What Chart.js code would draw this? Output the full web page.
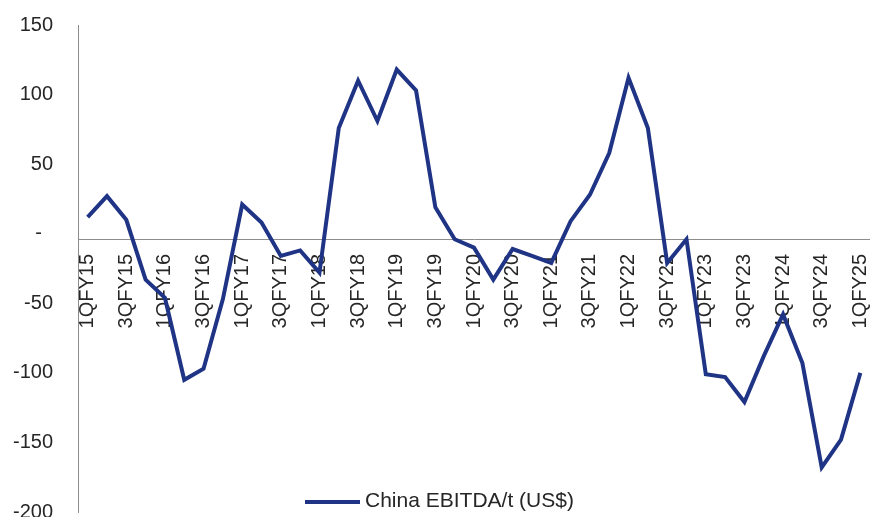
<!DOCTYPE html>
<html>
<head>
<meta charset="utf-8">
<script src="https://cdn.jsdelivr.net/npm/chart.js@4.4.1/dist/chart.umd.min.js"></script>
<style>
  html, body { margin: 0; padding: 0; background: #ffffff; }
  #wrap { width: 870px; height: 517px; position: relative; }
</style>
</head>
<body>
<div id="wrap"><canvas id="c"></canvas></div>
<script>
const quarters = [
  '1QFY15','2QFY15','3QFY15','4QFY15',
  '1QFY16','2QFY16','3QFY16','4QFY16',
  '1QFY17','2QFY17','3QFY17','4QFY17',
  '1QFY18','2QFY18','3QFY18','4QFY18',
  '1QFY19','2QFY19','3QFY19','4QFY19',
  '1QFY20','2QFY20','3QFY20','4QFY20',
  '1QFY21','2QFY21','3QFY21','4QFY21',
  '1QFY22','2QFY22','3QFY22','4QFY22',
  '1QFY23','2QFY23','3QFY23','4QFY23',
  '1QFY24','2QFY24','3QFY24','4QFY24',
  '1QFY25'
];
const chinaEbitda = [
  12, 27, 10, -33,
  -46, -105, -97, -47,
  21, 8, -16, -12,
  -28, 76, 110, 81,
  118, 103, 19, -4,
  -10, -33, -11, -16,
  -21, 9, 28, 58,
  112, 76, -21, -4,
  -101, -103, -121, -88,
  -58, -93, -168, -148,
  -100
];
const seriesLabel = 'China EBITDA/t (US$)';
const yTicks = { min: -200, max: 150, step: 50 };
const axisCross = -4.5;

const lineColor = '#203486';
const textColor = '#262626';
const axisColor = '#8c8c8c';
const fontFamily = '"Liberation Sans", Arial, sans-serif';

const overlayLegend = {
  id: 'overlayLegend',
  afterDraw(chart) {
    const ctx = chart.ctx;
    const ds = chart.data.datasets[0];
    ctx.save();
    ctx.strokeStyle = ds.borderColor;
    ctx.lineWidth = 4;
    ctx.lineCap = 'butt';
    ctx.beginPath();
    ctx.moveTo(305, 502);
    ctx.lineTo(360, 502);
    ctx.stroke();
    ctx.fillStyle = textColor;
    ctx.font = '21px ' + fontFamily;
    ctx.textBaseline = 'middle';
    ctx.textAlign = 'left';
    ctx.fillText(ds.label, 365, 501);
    ctx.restore();
  }
};

new Chart(document.getElementById('c'), {
  type: 'line',
  data: {
    labels: quarters,
    datasets: [{
      label: seriesLabel,
      data: chinaEbitda,
      borderColor: lineColor,
      backgroundColor: lineColor,
      borderWidth: 4,
      pointRadius: 0,
      tension: 0,
      fill: false,
      borderJoinStyle: 'miter'
    }]
  },
  options: {
    responsive: true,
    maintainAspectRatio: false,
    animation: false,
    layout: { padding: { top: 25, right: -2, bottom: 5, left: 0 } },
    plugins: {
      legend: { display: false },
      tooltip: { enabled: false }
    },
    scales: {
      y: {
        position: 'left',
        min: yTicks.min,
        max: yTicks.max,
        grid: { display: false, drawTicks: false },
        border: { display: true, color: axisColor, width: 1 },
        ticks: {
          stepSize: yTicks.step,
          padding: 25,
          color: textColor,
          font: { family: fontFamily, size: 20 },
          callback: (v) => v === 0 ? '-  ' : String(v)
        },
        afterFit(scale) {
          scale.width = 78;
          scale.paddingTop = 0;
          scale.paddingBottom = 0;
        }
      },
      x: {
        type: 'category',
        offset: true,
        position: { y: axisCross },
        grid: { display: false, drawTicks: false },
        border: { display: true, color: axisColor, width: 1 },
        ticks: {
          autoSkip: false,
          minRotation: 90,
          maxRotation: 90,
          padding: 14,
          color: textColor,
          font: { family: fontFamily, size: 20 },
          callback: function (value, index) {
            return index % 2 === 0 ? this.getLabelForValue(value) : '';
          }
        },
        afterFit(scale) {
          scale.paddingLeft = 0;
          scale.paddingRight = 0;
        }
      }
    }
  },
  plugins: [overlayLegend]
});
</script>
</body>
</html>
